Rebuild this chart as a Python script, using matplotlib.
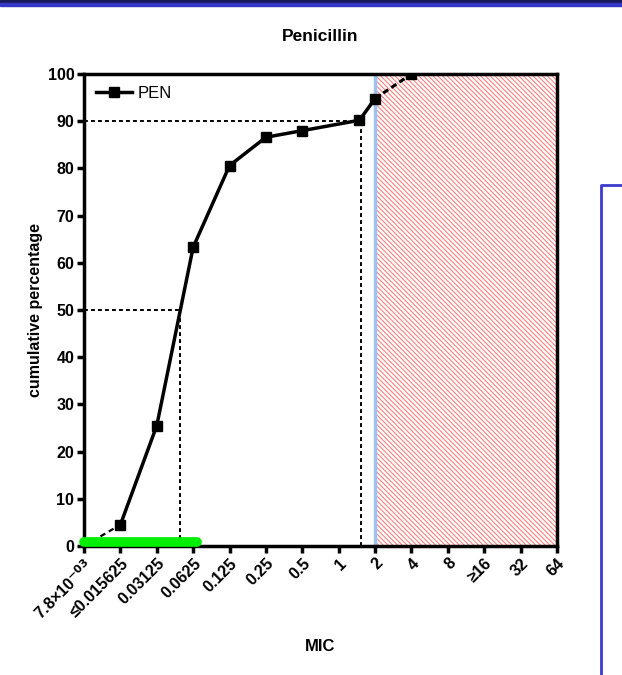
import numpy as np
import matplotlib.pyplot as plt
from matplotlib.patches import Rectangle

plt.rcParams['font.family'] = ['Liberation Sans', 'DejaVu Sans']
plt.rcParams['hatch.color'] = '#ff7070'
plt.rcParams['hatch.linewidth'] = 0.8
plt.rcParams['mathtext.default'] = 'bf'

# MIC categories (shown as equally spaced positions)
mic_labels = ['7.8×10$^{-03}$', '≤0.015625', '0.03125', '0.0625', '0.125', '0.25',
              '0.5', '1', '2', '4', '8', '≥16', '32', '64']
# cumulative percentage, position on the category axis
pen_pos = [0, 1, 2, 3, 4, 5, 6, 7.57, 8, 9]
pen_cum = [0, 4.5, 25.5, 63.3, 80.6, 86.6, 88.0, 90.2, 94.8, 100]
mic50_pos = 2.65
mic90_pos = 7.62
breakpoint_pos = 8       # MIC = 2
green_end = 3.1

fig = plt.figure(figsize=(6.22, 6.75), dpi=100)
ax = fig.add_axes([84/622, 1-546/675, (557-84)/622, (546-74)/675])

# resistant region
ax.add_patch(Rectangle((breakpoint_pos, 0), len(mic_labels)-1-breakpoint_pos, 100,
                       facecolor='none', edgecolor='#ff8080', hatch='\\'*7,
                       linewidth=0.8, linestyle=':', zorder=1))
ax.axvline(breakpoint_pos, color='#9cc3f0', lw=2.5, zorder=2)

# MIC50 / MIC90 guides
dash = dict(color='black', lw=1.4, ls=(0, (2, 1.6)), zorder=3)
ax.plot([0, mic90_pos], [90, 90], **dash)
ax.plot([mic90_pos, mic90_pos], [0, 90], **dash)
ax.plot([0, mic50_pos], [50, 50], **dash)
ax.plot([mic50_pos, mic50_pos], [0, 50], **dash)

# curve: dashed first and last segments, solid in between
ax.plot(pen_pos[:2], pen_cum[:2], color='black', lw=1.6, ls=(0, (2.5, 1.8)), zorder=4)
ax.plot(pen_pos[-2:], pen_cum[-2:], color='black', lw=2.2, ls=(0, (2, 1.2)), zorder=4)
ax.plot(pen_pos[1:-1], pen_cum[1:-1], color='black', lw=2.5, zorder=5)
ax.plot(pen_pos[1:], pen_cum[1:], color='black', lw=0, marker='s', ms=7, zorder=6)
ax.plot([], [], color='black', lw=2.5, marker='s', ms=7, label='PEN')

# green range bar on the axis
ax.plot([0, green_end], [0.9, 0.9], color='#00ee00', lw=7, solid_capstyle='round',
        clip_on=False, zorder=7)

ax.set_xlim(0, len(mic_labels)-1)
ax.set_ylim(0, 100)
ax.set_xticks(range(len(mic_labels)))
ax.set_xticklabels(mic_labels, rotation=45, ha='right', rotation_mode='anchor',
                   fontsize=11.5, fontweight='bold')
ax.set_yticks(range(0, 101, 10))
ax.set_yticklabels([str(v) for v in range(0, 101, 10)], fontsize=11.5, fontweight='bold')
ax.tick_params(width=2.5, length=5, pad=2)
for s in ax.spines.values():
    s.set_linewidth(2.5)

ax.set_title('Penicillin', fontsize=12.5, fontweight='bold', pad=24)
ax.set_ylabel('cumulative percentage', fontsize=11.5, fontweight='bold', labelpad=3)
ax.set_xlabel('MIC', fontsize=12, fontweight='bold', labelpad=12)
ax.legend(loc='upper left', frameon=False, fontsize=12, handlelength=2.2,
          handletextpad=0.3, borderaxespad=0.3)

# screenshot decorations: top bar and blue box on the right
fig.patches.append(Rectangle((0, 1-3/675), 1, 3/675, transform=fig.transFigure,
                             color='#1a1a5a', zorder=10))
fig.patches.append(Rectangle((0, 1-5.5/675), 1, 2.5/675, transform=fig.transFigure,
                             color='#3535c8', zorder=10))
fig.lines.append(plt.Line2D([601/622, 601/622, 1.0], [0, 1-185/675, 1-185/675],
                            transform=fig.transFigure, color='#3a3acc', lw=2))

fig.savefig('out.png', dpi=100)
